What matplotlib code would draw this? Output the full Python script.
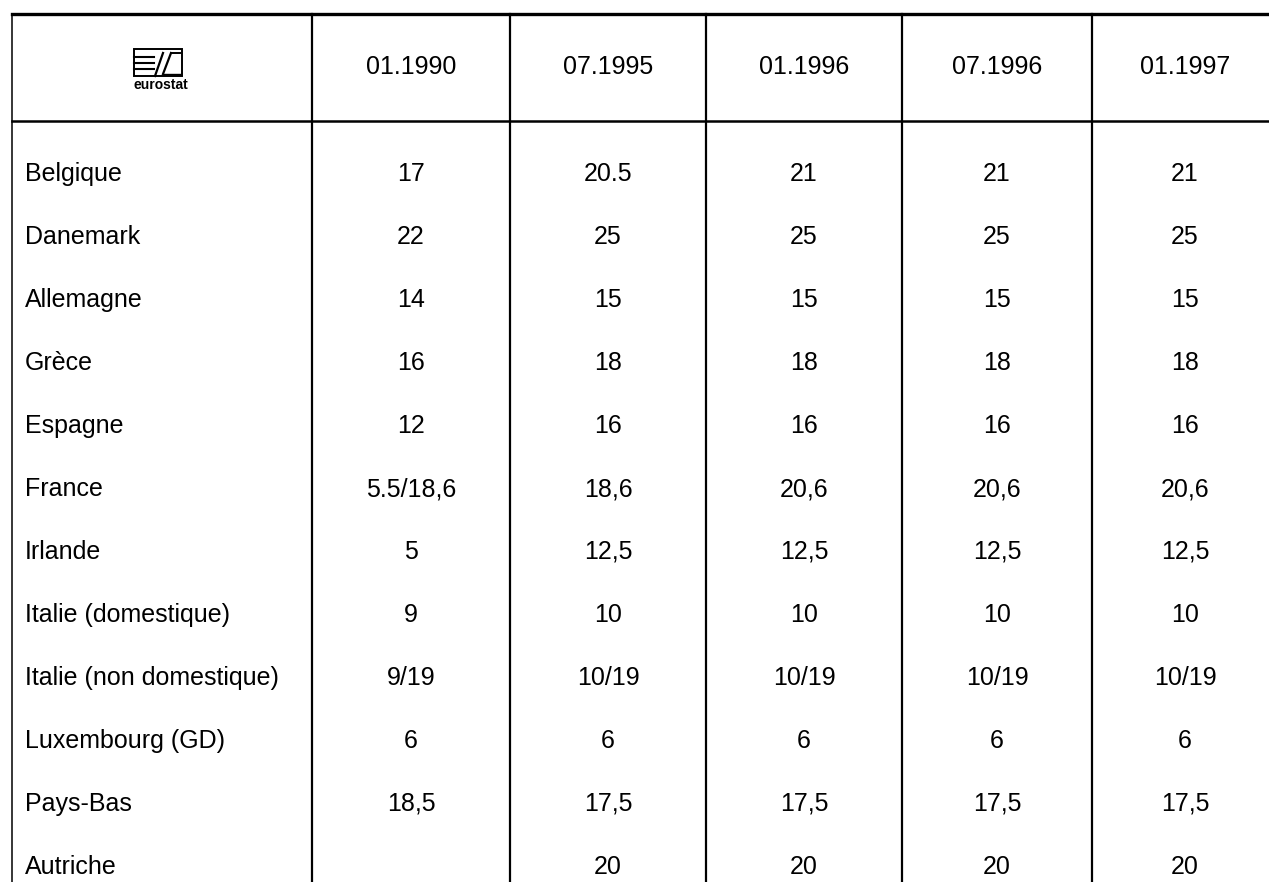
import matplotlib.pyplot as plt
from matplotlib.patches import Rectangle

# table contents
periods = ['01.1990', '07.1995', '01.1996', '07.1996', '01.1997']
countries = ['Belgique', 'Danemark', 'Allemagne', 'Grèce', 'Espagne', 'France',
             'Irlande', 'Italie (domestique)', 'Italie (non domestique)',
             'Luxembourg (GD)', 'Pays-Bas', 'Autriche']
col_1990 = ['17', '22', '14', '16', '12', '5.5/18,6', '5', '9', '9/19', '6', '18,5', '']
col_0795 = ['20.5', '25', '15', '18', '16', '18,6', '12,5', '10', '10/19', '6', '17,5', '20']
col_0196 = ['21', '25', '15', '18', '16', '20,6', '12,5', '10', '10/19', '6', '17,5', '20']
col_0796 = ['21', '25', '15', '18', '16', '20,6', '12,5', '10', '10/19', '6', '17,5', '20']
col_0197 = ['21', '25', '15', '18', '16', '20,6', '12,5', '10', '10/19', '6', '17,5', '20']
columns = [col_1990, col_0795, col_0196, col_0796, col_0197]

plt.rcParams['font.family'] = ['Liberation Sans', 'DejaVu Sans']

W, H = 1269, 882
fig = plt.figure(figsize=(W / 100, H / 100), dpi=100)
ax = fig.add_axes([0, 0, 1, 1])
ax.set_xlim(0, W)
ax.set_ylim(H, 0)
ax.axis('off')

# column edges (pixels)
edges = [12, 312, 510, 706, 902, 1092, 1278]
top_y, head_y = 14, 121
row0, row_step = 181, 63.0   # baseline of first row, spacing
fs = 18

# grid lines
ax.plot([12, W], [top_y, top_y], color='black', lw=2.4)
ax.plot([12, W], [head_y, head_y], color='black', lw=1.8)
for i, x in enumerate(edges[:-1]):
    ax.plot([x, x], [top_y, H], color='black', lw=1.6 if i else 1.1)

# header
for j, p in enumerate(periods):
    cx = (edges[j + 1] + edges[j + 2]) / 2
    ax.text(cx, 74, p, ha='center', va='baseline', fontsize=fs)

# eurostat logo
lx, ly, lw_, lh = 134, 49, 48, 27
ax.add_patch(Rectangle((lx, ly), lw_, lh, fill=False, ec='black', lw=1.4))
for yy in (ly + 8, ly + 14, ly + 20):
    ax.plot([lx, lx + 20], [yy, yy], color='black', lw=1.5)
ax.plot([lx + 21, lx + 29], [ly + lh, ly + 4], color='black', lw=1.6)
ax.plot([lx + 29, lx + 37], [ly + lh - 2, ly + 4], color='black', lw=1.6)
ax.plot([lx + 37, lx + 46], [ly + 4, ly + 4], color='black', lw=1.4)
ax.plot([lx + 29, lx + 46], [ly + lh - 2, ly + lh - 2], color='black', lw=1.0)
ax.text(lx + lw_ / 2 + 3, 85, 'eurostat', ha='center', va='center', fontsize=10,
        fontweight='bold')

# body
for i, c in enumerate(countries):
    base = row0 + i * row_step
    ax.text(25, base, c, ha='left', va='baseline', fontsize=fs)
    for j, col in enumerate(columns):
        cx = (edges[j + 1] + edges[j + 2]) / 2
        ax.text(cx, base, col[i], ha='center', va='baseline', fontsize=fs)

fig.savefig('out.png', dpi=100, facecolor='white')
